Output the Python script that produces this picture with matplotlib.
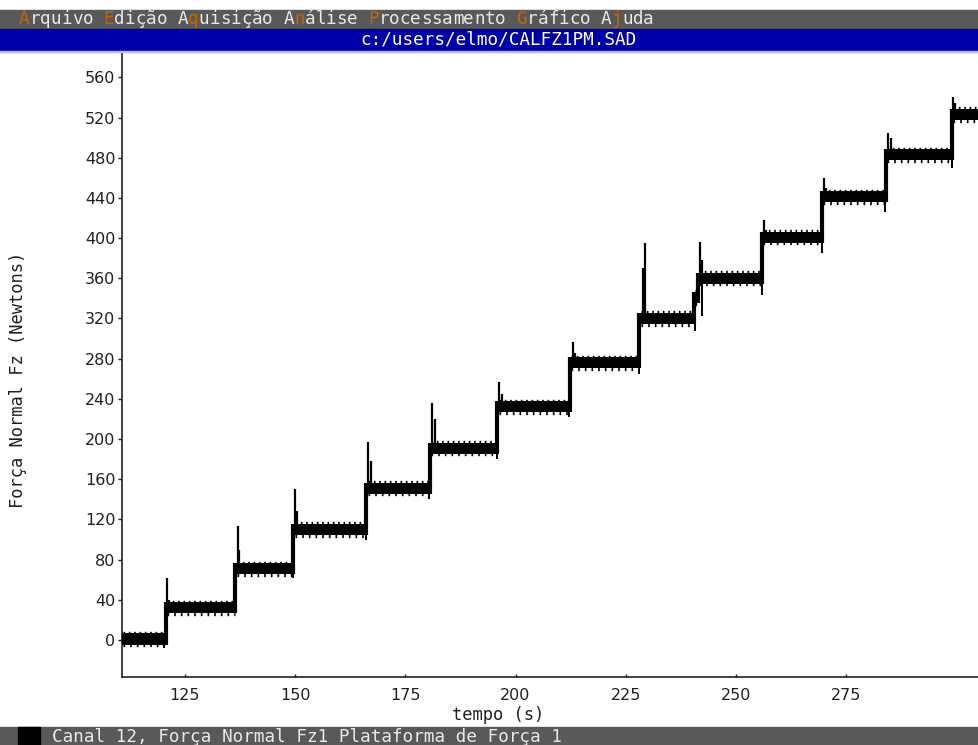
import numpy as np
import matplotlib
matplotlib.use("Agg")
import matplotlib.pyplot as plt
from matplotlib.patches import Rectangle

# ---- data -----------------------------------------------------------------
# plateaus of the calibration record: start time (s) and mean force (N)
plateau_start = [110.7, 120.7, 136.5, 149.6, 166.2, 180.5, 195.9, 212.3,
                 228.1, 240.5, 241.4, 255.9, 269.5, 283.9, 299.0]
plateau_level = [1, 32, 71, 110, 151, 191, 232, 276,
                 320, 341, 360, 401, 441, 483, 523]
record_end = 305.1

# overshoot peaks at each loading step: time (s), peak force (N)
spike_time = [120.9, 121.4, 137.0, 137.4, 150.0, 150.5, 166.5, 167.2,
              181.0, 181.8, 196.3, 196.9, 213.0, 213.5, 229.4, 229.0,
              241.9, 242.4, 256.4, 256.9, 270.0, 270.4, 284.4, 285.2,
              299.3, 299.7]
spike_peak = [62, 40, 113, 90, 150, 128, 197, 178,
              236, 220, 257, 245, 297, 286, 395, 370,
              396, 378, 418, 408, 460, 450, 505, 500,
              540, 534]

# short dips at the end of plateaus: time (s), minimum force (N)
dip_time = [120.4, 149.6, 166.0, 180.3, 195.7, 212.1, 228.0, 240.6,
            242.2, 255.8, 269.4, 283.8, 298.9]
dip_min = [-8, 62, 100, 140, 180, 222, 265, 308, 322, 343, 385, 426, 470]

y_ticks = [0, 40, 80, 120, 160, 200, 240, 280, 320, 360, 400, 440, 480, 520, 560]
x_ticks = [125, 150, 175, 200, 225, 250, 275]

menu_text = "Arquivo Edição Aquisição Análise Processamento Gráfico Ajuda"
menu_hot = [0, 8, 16, 26, 33, 47, 56]
file_name = "c:/users/elmo/CALFZ1PM.SAD"
status_text = "Canal 12, Força Normal Fz1 Plataforma de Força 1"

# ---- figure ----------------------------------------------------------------
W, H = 979, 745
fig = plt.figure(figsize=(W / 100, H / 100), dpi=100)
fig.patch.set_facecolor("white")
MONO = "DejaVu Sans Mono"


def fx(px):
    return px / W


def fy(py):
    return 1 - py / H


# menu bar, title bar and status bar
fig.patches.append(Rectangle((0, fy(29.5)), 1, fy(10) - fy(29.5),
                             transform=fig.transFigure, color="#595959", zorder=0))
fig.patches.append(Rectangle((0, fy(50.8)), 1, fy(29.5) - fy(50.8),
                             transform=fig.transFigure, color="#0000a8", zorder=0))
fig.patches.append(Rectangle((0, fy(52)), 1, fy(50.8) - fy(52),
                             transform=fig.transFigure, color="#b8b8f0", zorder=0))
fig.patches.append(Rectangle((0, 0), 1, fy(727),
                             transform=fig.transFigure, color="#595959", zorder=0))
fig.patches.append(Rectangle((fx(18), 0), fx(40) - fx(18), fy(727),
                             transform=fig.transFigure, color="black", zorder=1))

pitch = 10.58
for i, ch in enumerate(menu_text):
    col = "#c86400" if i in menu_hot else "#e8e8e8"
    fig.text(fx(19 + i * pitch + pitch / 2), fy(19.5), ch, color=col,
             family=MONO, fontsize=12.7, ha="center", va="center")

fig.text(fx(499), fy(40), file_name, color="white", family=MONO,
         fontsize=12.7, ha="center", va="center")
fig.text(fx(52), fy(736.5), status_text, color="#e8e8e8", family=MONO,
         fontsize=12.7, ha="left", va="center")

# ---- plot area -------------------------------------------------------------
ax = fig.add_axes([fx(121.7), fy(677), 1 - fx(121.7), fy(52) - fy(677)])
ax.set_xlim(110.7, 305.1)
ax.set_ylim(-36.8, 585.2)
for s in ("top", "right"):
    ax.spines[s].set_visible(False)
for s in ("left", "bottom"):
    ax.spines[s].set_color("#202020")
    ax.spines[s].set_linewidth(1.2)

ax.set_yticks(y_ticks)
ax.set_xticks(x_ticks)
ax.tick_params(axis="y", direction="out", length=3, width=1, pad=1.5,
               labelsize=11.5, colors="#202020")
ax.tick_params(axis="x", direction="in", length=2.5, width=1, pad=8,
               labelsize=11.5, colors="#202020")
for lab in ax.get_xticklabels() + ax.get_yticklabels():
    lab.set_family("DejaVu Sans")

fig.text(fx(18), fy(380), "Força Normal Fz (Newtons)", rotation=90,
         family=MONO, fontsize=12.3, color="#202020", ha="center", va="center")
fig.text(fx(498), fy(715), "tempo (s)", family=MONO, fontsize=12.3,
         color="#202020", ha="center", va="center")

# step trace: a band around each plateau level with ragged edges
half = 5.5
ends = plateau_start[1:] + [record_end]
for t0, t1, lv in zip(plateau_start, ends, plateau_level):
    ax.fill_between([t0, t1], [lv - half] * 2, [lv + half] * 2,
                    color="black", lw=0, zorder=3)
    ax.plot([t0 + 0.3, t1 - 0.2], [lv + half + 0.6] * 2, color="black",
            lw=2.4, dashes=(0.5, 1.1), zorder=3)
    ax.plot([t0 + 0.3, t1 - 0.2], [lv - half - 0.6] * 2, color="black",
            lw=2.4, dashes=(0.5, 1.5), zorder=3)

# rising edges between consecutive plateaus
ax.vlines(plateau_start[1:],
          [lv - half for lv in plateau_level[:-1]],
          [lv + half for lv in plateau_level[1:]],
          color="black", lw=3.0, zorder=3)

# overshoot spikes and dips
step_x = np.repeat(plateau_start, 2)[1:]
step_y = np.repeat(plateau_level, 2)[:-1]
lev_at = np.interp(spike_time, step_x, step_y)
ax.vlines(spike_time, lev_at, spike_peak, color="black", lw=1.6, zorder=4)
lev_dip = np.interp(dip_time, step_x, step_y)
ax.vlines(dip_time, dip_min, lev_dip, color="black", lw=1.4, zorder=4)

fig.savefig("out.png", dpi=100, facecolor="white")
